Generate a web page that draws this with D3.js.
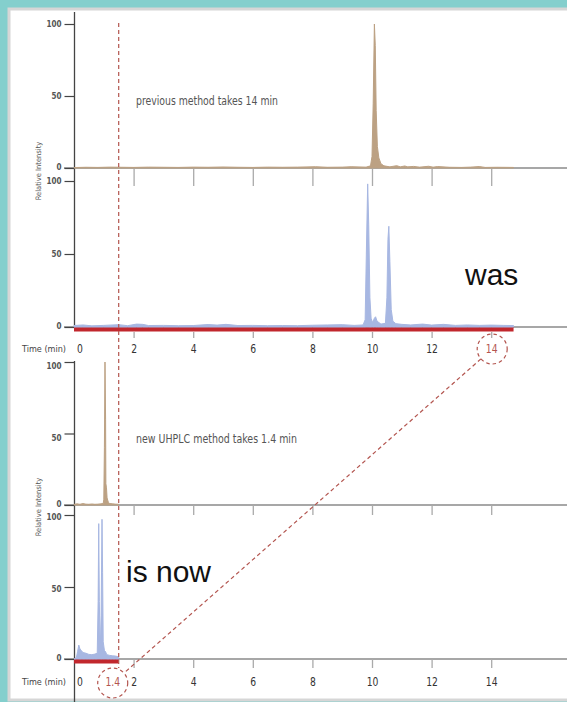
<!DOCTYPE html>
<html>
<head>
<meta charset="utf-8">
<script src="https://cdn.jsdelivr.net/npm/d3@7"></script>
<style>
  body { margin: 0; background: #84cfcd; }
  svg { display: block; }
  .narrow { font-family: "Liberation Sans Narrow", "DejaVu Sans Condensed", "Roboto Condensed", sans-serif; }
</style>
</head>
<body>
<svg id="chart" width="567" height="702"></svg>
<script>
// time axis ticks (min)
const timeTicks = [0, 2, 4, 6, 8, 10, 12, 14];
const intensityTicks = [0, 50, 100];

// previous method, trace 1 (tan) [time, relative intensity]
const prevTop = [
  [0, 0.3], [0.4, 0.5], [0.8, 0.4], [1.2, 0.6], [1.6, 0.5], [2.0, 0.4], [2.5, 0.6], [3.0, 0.5],
  [3.5, 0.4], [4.0, 0.6], [4.5, 0.5], [5.0, 0.7], [5.5, 0.5], [6.0, 0.4], [6.5, 0.6], [7.0, 0.5],
  [7.5, 0.6], [8.1, 0.9], [8.5, 0.5], [9.0, 0.6], [9.3, 0.9], [9.8, 0.6], [9.95, 1.5], [10.0, 8],
  [10.04, 45], [10.08, 100], [10.11, 85], [10.14, 40], [10.18, 15], [10.23, 7], [10.3, 3], [10.4, 1.5],
  [10.6, 0.8], [10.83, 1.6], [10.95, 0.8], [11.1, 1.4], [11.2, 0.8], [11.4, 1.1], [11.6, 0.6], [11.9, 1.2],
  [12.05, 0.6], [12.2, 1.0], [12.6, 0.5], [13.0, 0.4], [13.3, 0.6], [13.6, 1.0], [13.8, 0.4], [14.2, 0.5],
  [14.75, 0.4]
];

// previous method, trace 2 (blue)
const prevBottom = [
  [0, 1.0], [0.3, 1.4], [0.6, 0.8], [1.0, 1.1], [1.5, 1.6], [1.8, 0.9], [2.1, 2.0], [2.3, 1.8],
  [2.5, 1.0], [3.0, 1.1], [3.5, 0.9], [4.0, 1.0], [4.5, 1.7], [4.8, 1.3], [5.1, 1.8], [5.5, 1.0],
  [6.0, 1.1], [6.5, 0.9], [7.0, 1.0], [7.5, 0.9], [8.0, 1.2], [8.5, 1.4], [9.0, 1.6], [9.4, 1.1],
  [9.7, 1.4], [9.77, 5], [9.81, 50], [9.855, 98], [9.89, 70], [9.93, 20], [9.97, 6], [10.02, 3],
  [10.08, 6], [10.12, 7], [10.17, 4], [10.3, 2], [10.45, 2.5], [10.5, 20], [10.535, 60], [10.565, 69],
  [10.6, 45], [10.645, 12], [10.7, 4], [10.8, 2.3], [11.0, 1.8], [11.3, 1.4], [11.7, 2.0], [12.0, 1.3],
  [12.4, 1.8], [12.8, 1.1], [13.2, 1.4], [13.6, 1.1], [14.0, 1.3], [14.4, 1.1], [14.75, 1.0]
];

// new UHPLC method, trace 1 (tan)
const newTop = [
  [0, 0.4], [0.1, 0.8], [0.2, 0.5], [0.3, 1.0], [0.4, 0.6], [0.5, 0.5], [0.6, 0.7], [0.7, 0.5],
  [0.8, 0.6], [0.9, 0.8], [0.98, 1.0], [1.0, 4], [1.02, 40], [1.04, 100], [1.06, 60], [1.07, 15],
  [1.09, 12], [1.11, 5], [1.15, 2], [1.2, 1.0], [1.3, 0.8], [1.4, 0.6], [1.5, 0.5]
];

// new UHPLC method, trace 2 (blue)
const newBottom = [
  [0, 0], [0.08, 1], [0.12, 5], [0.16, 9.7], [0.2, 7], [0.24, 6], [0.3, 4.5], [0.4, 4],
  [0.5, 3.2], [0.6, 3.0], [0.7, 3.4], [0.78, 4], [0.81, 40], [0.83, 94], [0.85, 40], [0.88, 6],
  [0.91, 30], [0.94, 97], [0.96, 60], [0.98, 12], [1.02, 6], [1.06, 5], [1.1, 3], [1.2, 2.5],
  [1.3, 2.2], [1.4, 2.0], [1.5, 1.5]
];

const prevEnd = 14.75;   // end of old run (red bar)
const newEnd = 1.5;      // end of new run (red bar, dashed marker)

const tan = "#bca183";
const blue = "#a7b7e2";
const red = "#c1272d";
const dashRed = "#b3554f";
const axisGray = "#8a8a8a";

const svg = d3.select("#chart");

// frame
svg.append("rect")
    .attr("x", 9).attr("y", 9)
    .attr("width", 620).attr("height", 691)
    .attr("fill", "#fff")
    .attr("stroke", "#d6d6d6")
    .attr("stroke-width", 3);

let x = d3.scaleLinear().domain([0, 14]).range([74, 491.2]);

// labelDy moves the 50/100 labels of a panel a little down, as in the original
const panels = [
  {data: prevTop, color: tan, y0: 168, y100: 24, tick: 18, tickOff: 0, labelDy: 0},
  {data: prevBottom, color: blue, y0: 327, y100: 181, tick: 6, tickOff: 5, bar: prevEnd, labelDy: 0},
  {data: newTop, color: tan, y0: 505, y100: 362, tick: 10, tickOff: 0, labelDy: 4},
  {data: newBottom, color: blue, y0: 659, y100: 515, tick: 9, tickOff: 0, bar: newEnd, labelDy: 2}
];

// y axis lines (continuous across paired panels)
svg.append("line").attr("x1", 74.5).attr("x2", 74.5).attr("y1", 12).attr("y2", 327)
    .attr("stroke", "#444").attr("stroke-width", 1.3);
svg.append("line").attr("x1", 74.5).attr("x2", 74.5).attr("y1", 361).attr("y2", 702)
    .attr("stroke", "#444").attr("stroke-width", 1.3);

panels.forEach(p => {
  let y = d3.scaleLinear().domain([0, 100]).range([p.y0, p.y100]);

  // baseline
  svg.append("line")
      .attr("x1", 64).attr("x2", 567)
      .attr("y1", p.y0).attr("y2", p.y0)
      .attr("stroke", axisGray).attr("stroke-width", 1.6);

  // x ticks (no labels here)
  let xa = svg.append("g")
      .attr("transform", `translate(0, ${p.y0 + p.tickOff})`)
      .call(d3.axisBottom(x).tickValues(timeTicks.slice(1)).tickSize(p.tick).tickFormat(""));
  xa.select(".domain").remove();
  xa.selectAll("line").attr("stroke", "#aaa").attr("stroke-width", 1.3);

  // y ticks
  let ya = svg.append("g")
      .attr("transform", "translate(74.5, 0)")
      .call(d3.axisLeft(y).tickValues(intensityTicks).tickSize(10).tickPadding(3));
  ya.select(".domain").remove();
  ya.selectAll("line").attr("stroke", "#444").attr("stroke-width", 1.2);
  ya.selectAll("text")
      .attr("class", "narrow")
      .attr("font-size", 8)
      .attr("font-weight", "bold")
      .attr("fill", "#555")
      .attr("y", d => d === 0 ? -1 : p.labelDy)
      .attr("dy", "0.35em");

  if (p.bar) {
    svg.append("rect")
        .attr("x", x(0)).attr("y", p.y0 - 0.5)
        .attr("width", x(p.bar) - x(0)).attr("height", 5)
        .attr("fill", red);
  }

  svg.append("path")
      .datum(p.data)
      .attr("fill", p.color)
      .attr("stroke", p.color)
      .attr("stroke-width", 1)
      .attr("d", d3.area()
        .x(d => x(d[0]))
        .y0(y(0))
        .y1(d => y(d[1])));
});

// time labels under panels 2 and 4 (squeezed to look condensed)
[{y: 353, red14: true}, {y: 686, red14: false}].forEach(r => {
  svg.append("text")
      .attr("class", "narrow")
      .attr("x", 66).attr("y", r.y - 1)
      .attr("text-anchor", "end")
      .attr("font-size", 9)
      .attr("fill", "#444")
      .text("Time (min)");
  svg.selectAll(null)
      .data(timeTicks)
      .join("text")
      .attr("class", "narrow")
      .attr("transform", d => `translate(${d === 0 ? x(d) + 6 : x(d) + 0.5}, ${r.y}) scale(0.82, 1)`)
      .attr("text-anchor", "middle")
      .attr("font-size", 12.5)
      .attr("fill", d => (d === 14 && r.red14) ? dashRed : "#333")
      .text(d => d);
});

svg.append("text")
    .attr("class", "narrow")
    .attr("transform", `translate(${x(1.4) - 3}, 686) scale(0.82, 1)`)
    .attr("text-anchor", "middle")
    .attr("font-size", 12.5)
    .attr("fill", dashRed)
    .text("1.4");

// Relative Intensity labels
[171, 507].forEach(cy => {
  svg.append("text")
      .attr("class", "narrow")
      .attr("transform", `translate(41, ${cy}) rotate(-90)`)
      .attr("text-anchor", "middle")
      .attr("font-size", 7.5)
      .attr("fill", "#555")
      .text("Relative Intensity");
});

// method notes
svg.append("text")
    .attr("class", "narrow")
    .attr("x", 136).attr("y", 105)
    .attr("font-size", 12)
    .attr("textLength", 142)
    .attr("lengthAdjust", "spacingAndGlyphs")
    .attr("fill", "#555")
    .text("previous method takes 14 min");
svg.append("text")
    .attr("class", "narrow")
    .attr("x", 136).attr("y", 443)
    .attr("font-size", 12)
    .attr("textLength", 161)
    .attr("lengthAdjust", "spacingAndGlyphs")
    .attr("fill", "#555")
    .text("new UHPLC method takes 1.4 min");

svg.append("text")
    .attr("x", 465).attr("y", 285)
    .attr("font-family", "Liberation Sans, Arial, sans-serif")
    .attr("font-size", 30)
    .attr("fill", "#111")
    .text("was");
svg.append("text")
    .attr("x", 126).attr("y", 582)
    .attr("font-family", "Liberation Sans, Arial, sans-serif")
    .attr("font-size", 30)
    .attr("fill", "#111")
    .text("is now");

// dashed cut-off line at end of new run
svg.append("line")
    .attr("x1", x(newEnd)).attr("x2", x(newEnd))
    .attr("y1", 23).attr("y2", 668)
    .attr("stroke", dashRed)
    .attr("stroke-width", 1.2)
    .attr("stroke-dasharray", "4,3");

// circles round the run times and the connector
const c1 = {x: x(14) + 1, y: 349, r: 15};
const c2 = {x: x(1.4) - 3, y: 683, r: 15};
[c1, c2].forEach(c => {
  svg.append("circle")
      .attr("cx", c.x).attr("cy", c.y).attr("r", c.r)
      .attr("fill", "none")
      .attr("stroke", dashRed)
      .attr("stroke-width", 1.2)
      .attr("stroke-dasharray", "3.5,3");
});
let dx = c2.x - c1.x, dy = c2.y - c1.y;
let len = Math.sqrt(dx * dx + dy * dy);
svg.append("line")
    .attr("x1", c1.x + c1.r * dx / len).attr("y1", c1.y + c1.r * dy / len)
    .attr("x2", c2.x - c2.r * dx / len).attr("y2", c2.y - c2.r * dy / len)
    .attr("stroke", dashRed)
    .attr("stroke-width", 1.2)
    .attr("stroke-dasharray", "4,3");
</script>
</body>
</html>
